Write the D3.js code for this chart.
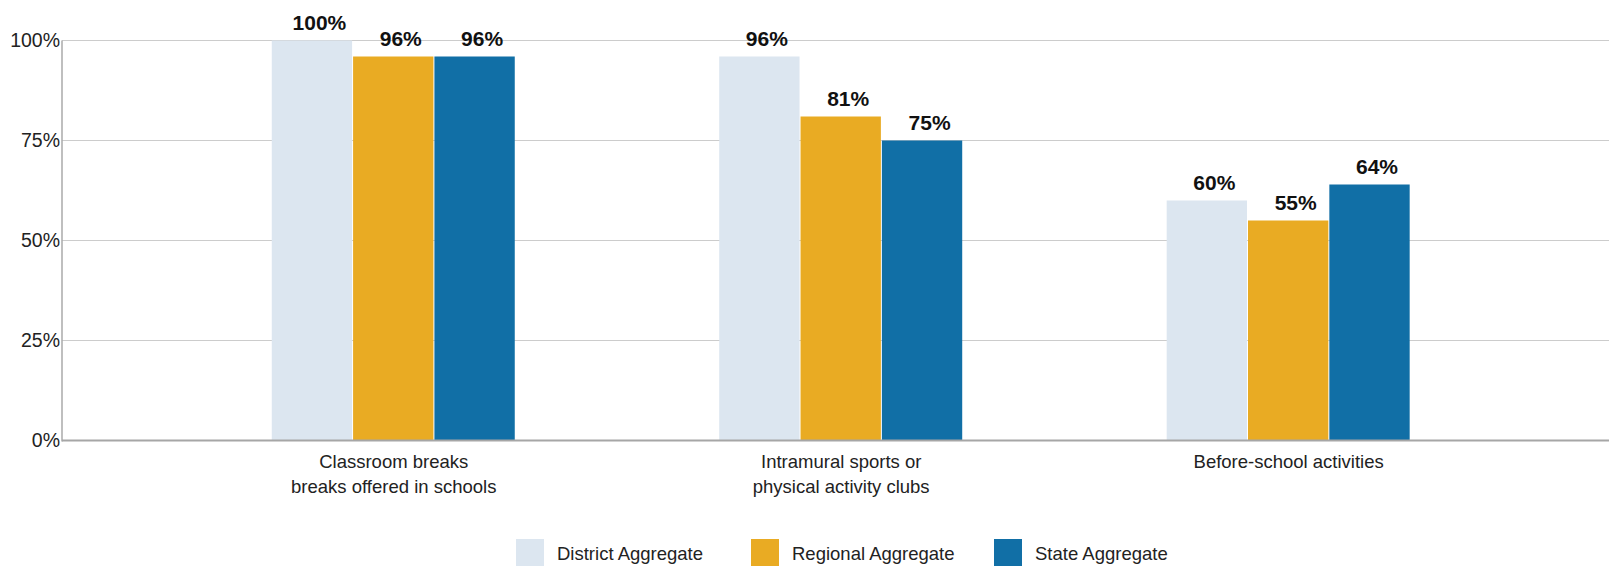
<!DOCTYPE html>
<html>
<head>
<meta charset="utf-8">
<script src="https://cdn.jsdelivr.net/npm/d3@7"></script>
<style>
  html, body { margin: 0; padding: 0; background: #fff; }
  svg { display: block; font-family: Arial, "Liberation Sans", Helvetica, sans-serif; }
</style>
</head>
<body>
<svg id="chart" width="1611" height="566"></svg>
<script>
// Categories (each may wrap onto two lines)
const categories = [
  ["Classroom breaks", "breaks offered in schools"],
  ["Intramural sports or", "physical activity clubs"],
  ["Before-school activities"]
];
const categoryKeys = categories.map(c => c.join(" "));

// Series
const seriesNames = ["District Aggregate", "Regional Aggregate", "State Aggregate"];
const seriesColors = ["#dce6f0", "#e9ab23", "#116fa6"];

// Percent values per series, one per category
const districtValues = [100, 96, 60];
const regionalValues = [96, 81, 55];
const stateValues = [96, 75, 64];

// Y axis ticks
const yTicks = [0, 25, 50, 75, 100];

const seriesValues = [districtValues, regionalValues, stateValues];

const svg = d3.select("#chart");
const plotLeft = 62, plotRight = 1609, plotTop = 40.5, plotBottom = 440.5;

const x = d3.scaleBand()
  .domain(categoryKeys)
  .range([plotLeft, plotRight])
  .paddingInner(0.4547)
  .paddingOuter(0.456)
  .align(0.514);

const xInner = d3.scaleBand()
  .domain(seriesNames)
  .range([0, x.bandwidth()]);

const y = d3.scaleLinear().domain([0, 100]).range([plotBottom, plotTop]);

const color = d3.scaleOrdinal().domain(seriesNames).range(seriesColors);

// Gridlines
svg.append("g")
  .selectAll("line")
  .data(yTicks.filter(t => t > 0))
  .join("line")
  .attr("x1", plotLeft).attr("x2", plotRight)
  .attr("y1", d => y(d)).attr("y2", d => y(d))
  .attr("stroke", "#cccccc")
  .attr("stroke-width", 1.2);

// Y axis labels
const yAxis = svg.append("g")
  .attr("transform", `translate(${plotLeft},0)`)
  .call(d3.axisLeft(y).tickValues(yTicks).tickSize(0).tickPadding(2).tickFormat(d => d + "%"));
yAxis.select(".domain").remove();
yAxis.selectAll("text")
  .attr("font-size", 19.5)
  .attr("fill", "#222")
  .attr("font-family", "Arial, 'Liberation Sans', sans-serif");

// Bars
const rows = categoryKeys.map((k, i) => ({
  key: k,
  values: seriesNames.map((s, j) => ({ series: s, value: seriesValues[j][i] }))
}));

const groups = svg.append("g")
  .selectAll("g")
  .data(rows)
  .join("g")
  .attr("transform", d => `translate(${x(d.key)},0)`);

groups.selectAll("rect")
  .data(d => d.values)
  .join("rect")
  .attr("x", d => xInner(d.series))
  .attr("width", xInner.bandwidth() - 1)
  .attr("y", d => y(d.value))
  .attr("height", d => y(0) - y(d.value))
  .attr("fill", d => color(d.series));

// Value labels
groups.selectAll("text")
  .data(d => d.values)
  .join("text")
  .attr("x", d => xInner(d.series) + xInner.bandwidth() / 2 + 7)
  .attr("y", d => y(d.value) - 11)
  .attr("text-anchor", "middle")
  .attr("font-size", 21)
  .attr("font-weight", "bold")
  .attr("fill", "#111")
  .text(d => d.value + "%");

// Y axis line
svg.append("line")
  .attr("x1", plotLeft).attr("x2", plotLeft)
  .attr("y1", plotTop).attr("y2", plotBottom + 1)
  .attr("stroke", "#aaaaaa")
  .attr("stroke-width", 1.5);

// Baseline
svg.append("line")
  .attr("x1", plotLeft).attr("x2", plotRight)
  .attr("y1", plotBottom).attr("y2", plotBottom)
  .attr("stroke", "#a6a6a6")
  .attr("stroke-width", 2);

// Category labels
const catLabels = svg.append("g")
  .selectAll("text")
  .data(categories.map((lines, i) => ({ key: categoryKeys[i], lines })))
  .join("text")
  .attr("text-anchor", "middle")
  .attr("font-size", 18.5)
  .attr("fill", "#222")
  .attr("x", d => x(d.key) + x.bandwidth() / 2)
  .attr("y", 468);
catLabels.selectAll("tspan")
  .data(d => d.lines.map(l => ({ l, cx: x(d.key) + x.bandwidth() / 2 })))
  .join("tspan")
  .attr("x", d => d.cx)
  .attr("dy", (d, i) => i === 0 ? 0 : 25)
  .text(d => d.l);

// Legend
const legendX = [516, 751, 994];
const legend = svg.append("g")
  .selectAll("g")
  .data(seriesNames)
  .join("g")
  .attr("transform", (d, i) => `translate(${legendX[i]},539)`);
legend.append("rect")
  .attr("width", 28).attr("height", 28)
  .attr("fill", d => color(d));
legend.append("text")
  .attr("x", 41).attr("y", 21)
  .attr("font-size", 18.5)
  .attr("fill", "#222")
  .text(d => d);
</script>
</body>
</html>
